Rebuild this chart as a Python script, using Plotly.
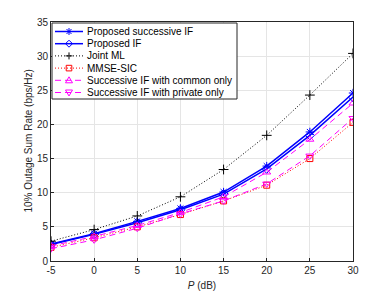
import plotly.graph_objects as go

P_dB = [-5, 0, 5, 10, 15, 20, 25, 30]
proposed_successive_if = [2.5, 4.0, 5.8, 7.7, 10.1, 13.9, 18.9, 24.6]
proposed_if = [2.4, 3.9, 5.6, 7.5, 9.8, 13.5, 18.4, 24.0]
joint_ml = [2.9, 4.6, 6.6, 9.4, 13.4, 18.4, 24.3, 30.4]
mmse_sic = [2.0, 3.4, 5.0, 6.8, 8.8, 11.1, 15.0, 20.3]
succ_if_common = [2.2, 3.6, 5.2, 7.1, 9.4, 13.0, 17.8, 23.1]
succ_if_private = [1.8, 3.1, 4.8, 6.9, 8.8, 11.3, 15.4, 20.9]
y_ticks = [0, 5, 10, 15, 20, 25, 30, 35]

DOT = "1px,2px"
DASH = "6px,4px"
series = [
    ("Proposed successive IF", proposed_successive_if, "#0000ff", "solid", 1.5, "asterisk-open", 7),
    ("Proposed IF", proposed_if, "#0000ff", "solid", 1.5, "diamond-open", 7),
    ("Joint ML", joint_ml, "#000000", DOT, 1.0, "cross-thin-open", 7),
    ("MMSE-SIC", mmse_sic, "#ff0000", DOT, 1.0, "square-open", 6),
    ("Successive IF with common only", succ_if_common, "#ff00ff", DASH, 1.0, "triangle-up-open", 7),
    ("Successive IF with private only", succ_if_private, "#ff00ff", DASH, 1.0, "triangle-down-open", 7),
]

# page body has an 8px default margin; size the figure so the plot area lands where it should
OFF = 8
W, H = 390 - OFF, 293 - OFF
L, R, T, B = 51 - OFF, 37, 22 - OFF, 32
PW, PH = W - L - R, H - T - B

def px(xp):  # window pixel -> paper
    return (xp - OFF - L) / PW

def py(yp):
    return (OFF + H - B - yp) / PH

fig = go.Figure()
for name, y, color, dash, lw, sym, ms in series:
    fig.add_trace(go.Scatter(
        x=P_dB, y=y, name=name, mode="lines+markers", showlegend=False,
        line=dict(color=color, dash=dash, width=lw),
        marker=dict(symbol=sym, size=ms, color=color, line=dict(color=color, width=1)),
    ))

# manual legend (MATLAB-style compact)
glyphs = {
    "asterisk-open": "M -3.5 0 L 3.5 0 M 0 -3.5 L 0 3.5 M -2.5 -2.5 L 2.5 2.5 M -2.5 2.5 L 2.5 -2.5",
    "diamond-open": "M -3.5 0 L 0 3.5 L 3.5 0 L 0 -3.5 Z",
    "cross-thin-open": "M -3.5 0 L 3.5 0 M 0 -3.5 L 0 3.5",
    "square-open": "M -2.8 -2.8 L 2.8 -2.8 L 2.8 2.8 L -2.8 2.8 Z",
    "triangle-up-open": "M -3.5 -2.5 L 3.5 -2.5 L 0 3.5 Z",
    "triangle-down-open": "M -3.5 2.5 L 3.5 2.5 L 0 -3.5 Z",
}
shapes = [dict(type="rect", xref="paper", yref="paper", x0=px(52), x1=px(237), y0=py(99), y1=py(23),
               line=dict(color="#262626", width=1), fillcolor="white", layer="above")]
annotations = []
row0, step = 31.5, 12.2
for i, (name, y, color, dash, lw, sym, ms) in enumerate(series):
    yc = row0 + i * step
    shapes.append(dict(type="line", xref="paper", yref="paper", x0=px(55), x1=px(83), y0=py(yc), y1=py(yc),
                       line=dict(color=color, dash=dash, width=lw), layer="above"))
    shapes.append(dict(type="path", xref="paper", yref="paper", xsizemode="pixel", ysizemode="pixel",
                       xanchor=px(69), yanchor=py(yc), path=glyphs[sym],
                       line=dict(color=color, width=1), fillcolor="rgba(0,0,0,0)", layer="above"))
    annotations.append(dict(xref="paper", yref="paper", x=px(86), y=py(yc), xanchor="left", yanchor="middle",
                            text=name, showarrow=False, font=dict(size=10, color="#000000"),
                            borderpad=0))

# y-axis title placed where MATLAB puts it
annotations.append(dict(xref="paper", yref="paper", x=px(27.5), y=py(141), xanchor="center", yanchor="middle",
                        text="10% Outage Sum Rate (bps/Hz)", textangle=-90, showarrow=False,
                        font=dict(size=10, color="#262626"), borderpad=0))

axis_common = dict(
    showline=True, linecolor="#262626", linewidth=1, mirror=True,
    ticks="inside", ticklen=3, tickcolor="#262626",
    showgrid=True, gridcolor="#e5e5e5", gridwidth=1,
    zeroline=False, automargin=False,
    tickfont=dict(family="Liberation Sans, Arial", size=10, color="#262626"),
)

fig.update_layout(
    width=W, height=H,
    margin=dict(l=L, r=R, t=T, b=B),
    paper_bgcolor="white", plot_bgcolor="white",
    font=dict(family="Liberation Sans, Arial", size=10, color="#262626"),
    xaxis=dict(range=[-5, 30], tickvals=P_dB, ticktext=[str(v) for v in P_dB],
               title=dict(text="<i>P</i> (dB)", standoff=6, font=dict(size=10)), **axis_common),
    yaxis=dict(range=[0, 35], tickvals=y_ticks, **axis_common),
    shapes=shapes,
    annotations=annotations,
    showlegend=False,
)

fig.write_html("out.html")
